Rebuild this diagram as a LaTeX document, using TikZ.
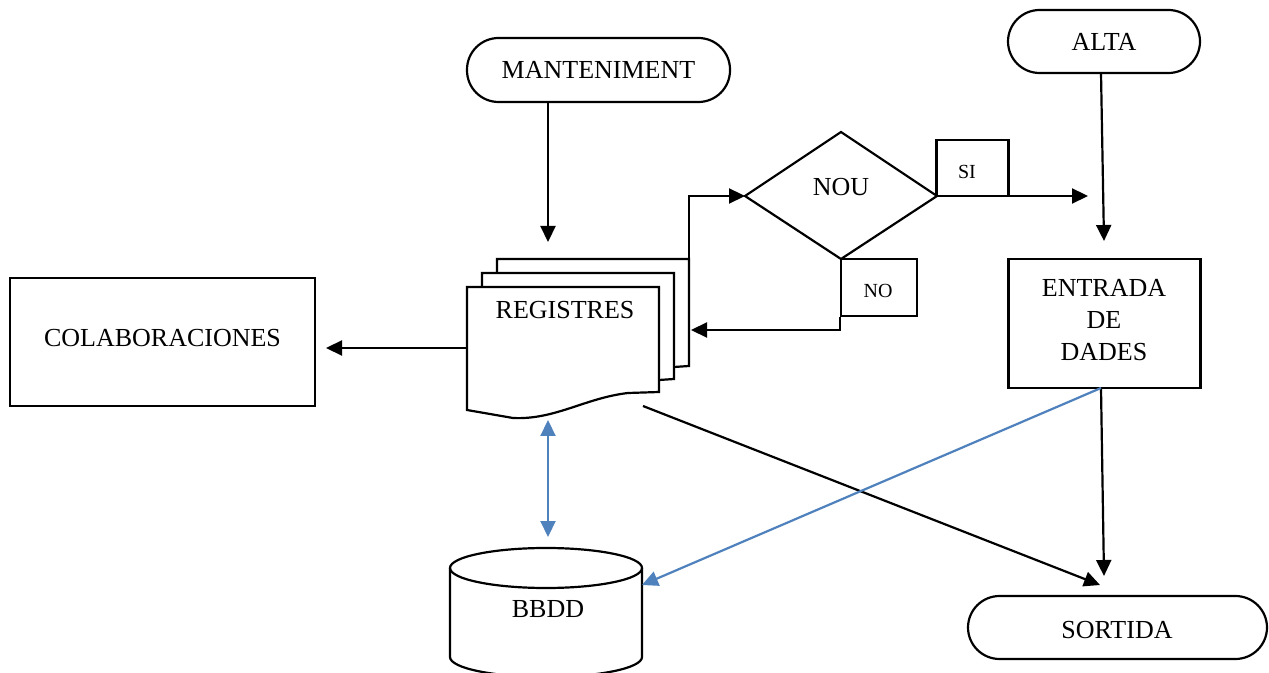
\documentclass[tikz,border=0pt]{standalone}
\usepackage{fontspec}
\setmainfont{Liberation Serif}
\usetikzlibrary{arrows.meta}
\definecolor{wblue}{RGB}{79,129,189}
\begin{document}
\begin{tikzpicture}[x=0.5pt,y=-0.5pt,
  line width=1.1pt,
  every node/.style={font=\fontsize{13}{16}\selectfont, inner sep=0pt},
  term/.style={draw, rectangle, rounded corners=15.8pt},
  boxn/.style={draw, rectangle},
  small/.style={font=\fontsize{10}{12}\selectfont},
  arr/.style={-{Triangle[length=8pt,width=7.5pt]}},
  barr/.style={draw=wblue, {Triangle[length=8pt,width=7.5pt]}-{Triangle[length=8pt,width=7.5pt]}},
  barrone/.style={draw=wblue, -{Triangle[length=8pt,width=7.5pt]}},
  ]
\useasboundingbox (0,0) rectangle (1269,673);

% terminals
\node[term, minimum width=131.5pt, minimum height=32pt] (man) at (598.5,70) {MANTENIMENT};
\node[term, minimum width=96pt, minimum height=31.5pt] (alta) at (1104,41.5) {ALTA};
\node[term, minimum width=149.5pt, minimum height=31.5pt] (sort) at (1117.5,627.5) {};
\node (sorttxt) at (1117,630) {SORTIDA};

% boxes
\node[boxn, minimum width=152.5pt, minimum height=64pt] (colab) at (162.5,342) {};
\node (colabtxt) at (162.5,338) {COLABORACIONES};
\node[boxn, minimum width=96pt, minimum height=64.5pt] (ent) at (1104.5,323.5) {};
\node[align=center] (enttxt) at (1104,320) {ENTRADA\\DE\\DADES};
\node[boxn, minimum width=36pt, minimum height=28pt] (sibox) at (972.5,168) {};
\node[small] (sitxt) at (967,172) {SI};
\node[boxn, minimum width=38pt, minimum height=28.5pt] (nobox) at (879,287.75) {};
\node[small] (notxt) at (878,291) {NO};

% decision diamond
\coordinate (nouW) at (745,196);
\coordinate (nouN) at (841,132);
\coordinate (nouE) at (937,196);
\coordinate (nouS) at (841,259);
\draw (nouW) -- (nouN) -- (nouE) -- (nouS) -- cycle;
\node (nou) at (841,187) {NOU};

% multi-document REGISTRES
\draw (497,273) -- (497,259) -- (689,259) -- (689,366) -- (674,367);
\draw[fill=white] (482,287) -- (482,273) -- (674,273) -- (674,379) -- (659,380);
\draw[fill=white] (467,287) -- (659,287) -- (659,392) -- (628,393)
   .. controls (585,398) and (555,420) .. (513,418) -- (467,410) -- cycle;
\node (reg) at (565,310) {REGISTRES};

% database cylinder (192px wide, 40px high ellipse)
\draw[fill=white] (450,568) -- (450,657) arc[start angle=180, end angle=360, x radius=48pt, y radius=10pt] -- (642,568);
\draw (546,568) ellipse [x radius=48pt, y radius=10pt];
\node (db) at (548,609) {BBDD};

% coordinates for connector ends
\coordinate (manEnd) at (548,242);
\coordinate (manStart) at (548,102);
\coordinate (altaStart) at (1101,73);
\coordinate (altaEnd) at (1104,241);
\coordinate (regR) at (689,298);
\coordinate (regIn) at (691,330);
\coordinate (siEnd) at (1088,196);
\coordinate (entB) at (1101,388);
\coordinate (sortEnd) at (1104,576);
\coordinate (regB) at (643,406);
\coordinate (sortEnd2) at (1100,585);
\coordinate (dbIn) at (642,585);
\coordinate (regBot) at (548,420);
\coordinate (dbTop) at (548,537);
\coordinate (regL) at (467,348);
\coordinate (colabIn) at (326,348);

% connectors
\draw[arr] (manStart) -- (manEnd);
\draw[arr] (altaStart) -- (altaEnd);
\draw[arr] (regR) |- (nouW);
\draw[arr] (nobox.south west) |- (regIn);
\draw[arr] (nouE) -- (siEnd);
\draw[arr] (entB) -- (sortEnd);
\draw[arr] (regB) -- (sortEnd2);
\draw[barrone] (entB) -- (dbIn);
\draw[barr] (regBot) -- (dbTop);
\draw[arr] (regL) -- (colabIn);
\end{tikzpicture}
\end{document}
